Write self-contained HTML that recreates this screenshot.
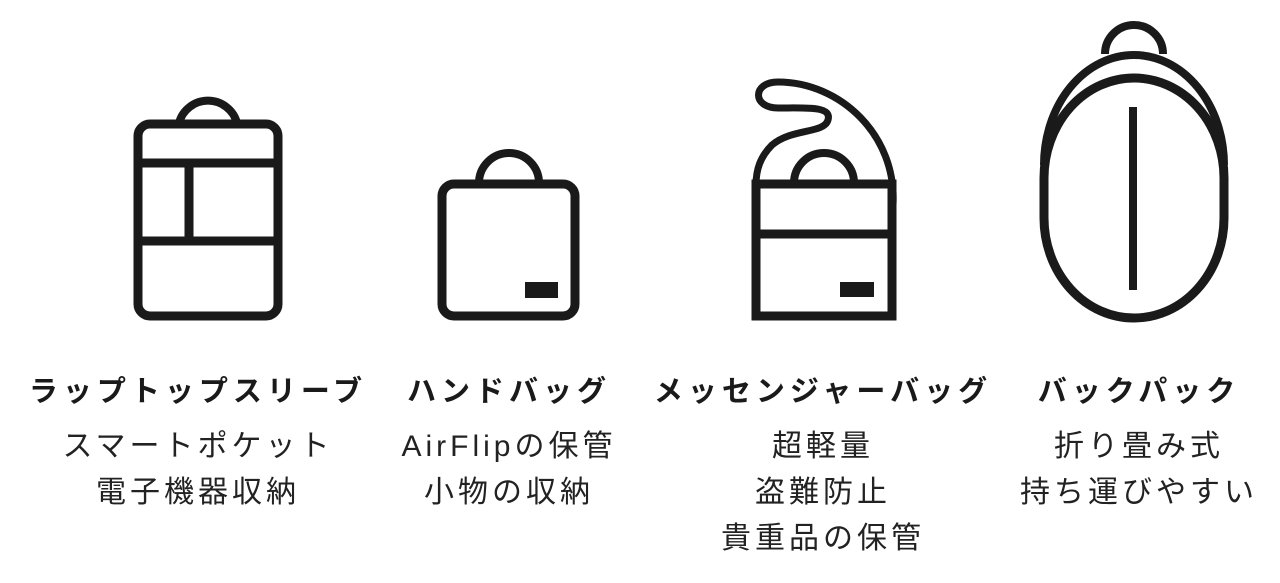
<!DOCTYPE html>
<html><head><meta charset="utf-8"><style>
html,body{margin:0;padding:0;background:#fff;width:1280px;height:583px;overflow:hidden;position:relative}
.col{position:absolute;top:371px;width:440px;margin-left:-220px;text-align:center;font-family:"Liberation Sans","Noto Sans CJK JP",sans-serif;color:#1a1a1a}
.t{font-size:29px;font-weight:bold;letter-spacing:5px;line-height:42px;height:53px}
.s{font-size:30px;letter-spacing:4px;line-height:46px;color:#222}
</style></head><body>
<svg width="1280" height="583" style="position:absolute;left:0;top:0" fill="none" stroke="#1a1a1a" stroke-width="9">
<path d="M179 123 A30 30 0 0 1 237 123" stroke-width="8"/>
<rect x="138" y="124" width="140" height="192" rx="12"/>
<line x1="138" y1="163" x2="278" y2="163"/>
<line x1="138" y1="241" x2="278" y2="241"/>
<line x1="189" y1="163" x2="189" y2="241"/>
<path d="M479 183 A30 30 0 0 1 539 183" stroke-width="8"/>
<rect x="442" y="184" width="133" height="132" rx="12"/>
<rect x="525" y="282" width="33" height="16" fill="#1a1a1a" stroke="none"/>
<path d="M794 183 A30 30 0 0 1 854 183" stroke-width="8"/>
<rect x="756" y="184" width="136" height="132"/>
<line x1="756" y1="234" x2="892" y2="234"/>
<rect x="840" y="282" width="34" height="15" fill="#1a1a1a" stroke="none"/>
<path d="M893 205 C897 135 840 82 778 82 C752 82 752 108 778 108 C808 108 832 106 828 120 C824 134 792 128 772 145 C760 157 756 170 756 185" stroke-width="7"/>
<path d="M1105 54 A29 29 0 0 1 1163 54" stroke-width="8"/>
<path d="M1044 165 A90 110 0 0 1 1224 165" stroke-width="8"/>
<rect x="1044" y="78" width="180" height="240" rx="90" ry="100"/>
<line x1="1133" y1="107" x2="1133" y2="290" stroke-width="8"/>
</svg>
<div class="col" style="left:198px"><div class="t">ラップトップスリーブ</div><div class="s">スマートポケット<br>電子機器収納</div></div>
<div class="col" style="left:509px"><div class="t">ハンドバッグ</div><div class="s">AirFlipの保管<br>小物の収納</div></div>
<div class="col" style="left:823px"><div class="t">メッセンジャーバッグ</div><div class="s">超軽量<br>盗難防止<br>貴重品の保管</div></div>
<div class="col" style="left:1139px"><div class="t">バックパック</div><div class="s">折り畳み式<br>持ち運びやすい</div></div>
</body></html>
